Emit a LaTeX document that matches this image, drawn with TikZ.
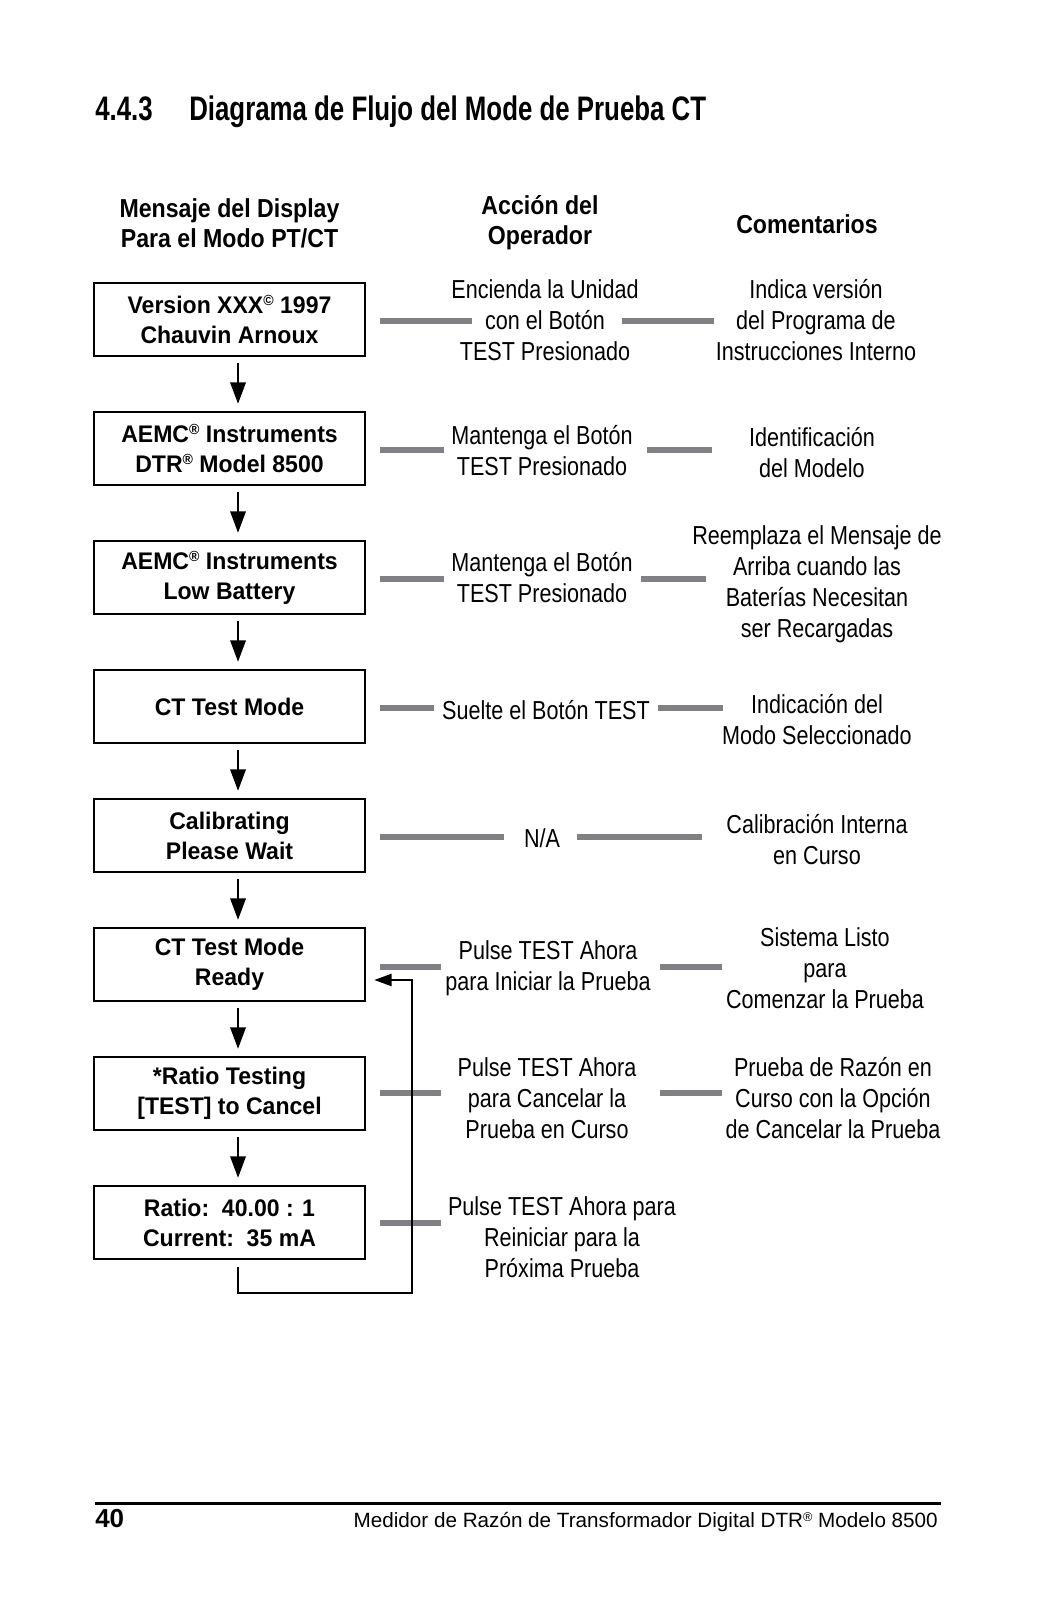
\documentclass[tikz,border=0pt]{standalone}
\usepackage{fontspec}
\setmainfont{Liberation Sans}
\newfontfamily\bodyf{Liberation Sans}[FakeStretch=0.83]
\newfontfamily\boxf{Liberation Sans}[FakeStretch=0.96]
\newfontfamily\headf{Liberation Sans}[FakeStretch=0.89]
\newfontfamily\titlef{Liberation Sans}[FakeStretch=0.76]
\usetikzlibrary{arrows.meta}
\definecolor{barcol}{RGB}{128,129,133}
\newcommand\smallsym[1]{\raisebox{6pt}{\fontsize{11pt}{11pt}\selectfont #1}}
\newcommand\footsym[1]{\raisebox{4.5pt}{\fontsize{9.5pt}{9.5pt}\selectfont #1}}
\begin{document}
\begin{tikzpicture}[x=0.75pt,y=-0.75pt,
  dispbox/.style={draw=black,line width=1.8pt,minimum width=203.25pt,minimum height=54.75pt,inner sep=0pt,align=center,font=\boxf\bfseries\fontsize{18pt}{22.5pt}\selectfont},
  txt/.style={inner sep=0pt,align=center,font=\bodyf\fontsize{19.5pt}{23.25pt}\selectfont},
  hdr/.style={inner sep=0pt,align=center,font=\headf\bfseries\fontsize{19.5pt}{22.5pt}\selectfont},
  flow/.style={line width=1.6pt,-{Triangle[length=16pt,width=11.5pt]}},
  gbar/.style={line width=4.5pt,draw=barcol}]
\fill[white] (0,0) rectangle (1036,1600);
\useasboundingbox (0,0) rectangle (1036,1600);

% title
\node[anchor=base west,inner sep=0pt,font=\titlef\bfseries\fontsize{25.5pt}{30pt}\selectfont] (tnum) at (95,120) {4.4.3};
\node[anchor=base west,inner sep=0pt,font=\titlef\bfseries\fontsize{25.5pt}{30pt}\selectfont] (ttl) at (189,120) {Diagrama de Flujo del Mode de Prueba CT};

% headers
\node[hdr] (h1) at (229.5,223) {Mensaje del Display\\Para el Modo PT/CT};
\node[hdr] (h2) at (540,223) {Acción del\\Operador};
\node[hdr] (h3) at (807,224) {Comentarios};

% display boxes
\node[dispbox] (b1) at (229.5,319.5) {Version XXX\smallsym{©} 1997\\Chauvin Arnoux};
\node[dispbox] (b2) at (229.5,448.5) {AEMC\smallsym{®} Instruments\\DTR\smallsym{®} Model 8500};
\node[dispbox] (b3) at (229.5,577.5) {AEMC\smallsym{®} Instruments\\Low Battery};
\node[dispbox] (b4) at (229.5,706.5) {CT Test Mode};
\node[dispbox] (b5) at (229.5,835.5) {Calibrating\\Please Wait};
\node[dispbox] (b6) at (229.5,964.5) {CT Test Mode\\Ready};
\node[dispbox] (b7) at (229.5,1093.5) {*Ratio Testing\\{[TEST]} to Cancel};
\node[dispbox] (b8) at (229.5,1222.5) {Ratio:\ \ 40.00 : 1\\Current:\ \ 35 mA};

% operator actions
\node[txt] (a1) at (545,320) {Encienda la Unidad\\con el Botón\\TEST Presionado};
\node[txt] (a2) at (542,451) {Mantenga el Botón\\TEST Presionado};
\node[txt] (a3) at (542,578) {Mantenga el Botón\\TEST Presionado};
\node[txt] (a4) at (546,710) {Suelte el Botón TEST};
\node[txt] (a5) at (542,838) {N/A};
\node[txt] (a6) at (548,968) {Pulse TEST Ahora\\para Iniciar la Prueba};
\node[txt] (a7) at (547,1098) {Pulse TEST Ahora\\para Cancelar la\\Prueba en Curso};
\node[txt] (a8) at (562,1237) {Pulse TEST Ahora para\\Reiniciar para la\\Próxima Prueba};

% comments
\node[txt] (c1) at (816,320) {Indica versión\\del Programa de\\Instrucciones Interno};
\node[txt] (c2) at (812,453) {Identificación\\del Modelo};
\node[txt] (c3) at (817,584) {Reemplaza el Mensaje de\\Arriba cuando las\\Baterías Necesitan\\ser Recargadas};
\node[txt] (c4) at (817,720) {Indicación del\\Modo Seleccionado};
\node[txt] (c5) at (817,840) {Calibración Interna\\en Curso};
\node[txt] (c6) at (825,968) {Sistema Listo\\para\\Comenzar la Prueba};
\node[txt] (c7) at (833,1098) {Prueba de Razón en\\Curso con la Opción\\de Cancelar la Prueba};

% grey bars
\draw[gbar] (380,321) -- (472,321);  \draw[gbar] (622,321) -- (714,321);
\draw[gbar] (380,450) -- (444,450);  \draw[gbar] (647,450) -- (712,450);
\draw[gbar] (380,579) -- (444,579);  \draw[gbar] (641,579) -- (706,579);
\draw[gbar] (380,708) -- (434,708);  \draw[gbar] (658,708) -- (723,708);
\draw[gbar] (380,837) -- (504,837);  \draw[gbar] (577,837) -- (702,837);
\draw[gbar] (380,967) -- (441,967);  \draw[gbar] (660,967) -- (722,967);
\draw[gbar] (380,1093) -- (441,1093); \draw[gbar] (660,1093) -- (722,1093);
\draw[gbar] (380,1223) -- (441,1223);

% flow arrows
\foreach \p/\q in {b1/b2,b2/b3,b3/b4,b4/b5,b5/b6,b6/b7,b7/b8}
  \draw[flow] ([xshift=6.4pt,yshift=-4.5pt]\p.south) -- ([xshift=6.4pt,yshift=5.25pt]\q.north);

% loop back
\coordinate (lc) at (412,1293);
\draw[line width=1.6pt,-{Triangle[length=13pt,width=9pt]}] ([xshift=6.4pt,yshift=-5.25pt]b8.south) |- (lc) |- ([xshift=6pt,yshift=-11.6pt]b6.east);

% footer
\draw[line width=2.25pt] (95,1503) -- (941,1503);
\node[anchor=base west,inner sep=0pt,font=\bfseries\fontsize{19.5pt}{22pt}\selectfont] (pg) at (95,1527) {40};
\node[anchor=base east,inner sep=0pt,font=\fontsize{15.5pt}{18pt}\selectfont] (ft) at (938,1527) {Medidor de Razón de Transformador Digital DTR\footsym{®} Modelo 8500};
\end{tikzpicture}
\end{document}
